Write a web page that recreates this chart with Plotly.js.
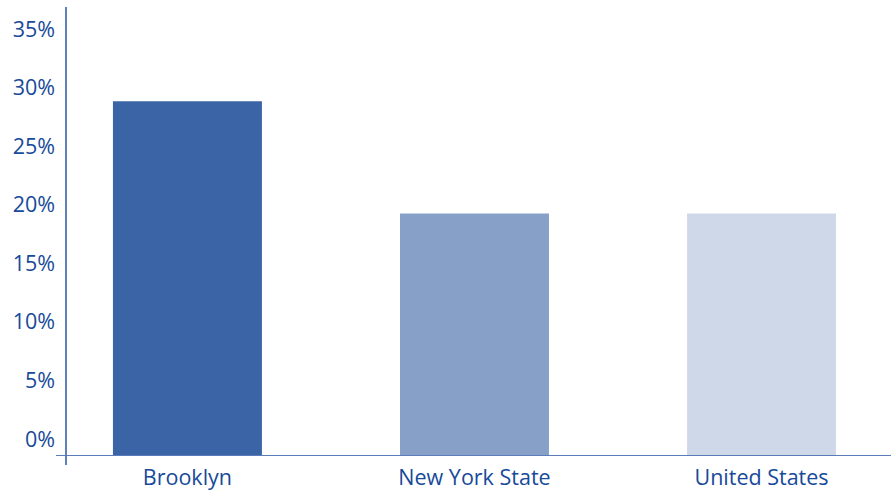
<!DOCTYPE html>
<html>
<head>
<meta charset="utf-8">
<script src="https://cdn.plot.ly/plotly-3.0.1.min.js"></script>
<style>html,body{margin:0;padding:0;background:#fff;}#chart{width:891px;height:490px;}</style>
</head>
<body>
<div id="chart"></div>
<script>
const categories = ["Brooklyn", "New York State", "United States"];
const values = [30.3, 20.7, 20.7];
const barColors = ["#3b64a7", "#87a0c8", "#cfd8e9"];
const tickValues = [0, 5, 10, 15, 20, 25, 30, 35];
const tickLabels = ["0%", "5%", "10%", "15%", "20%", "25%", "30%", "35%"];

const textColor = "#174a99";
const font = {family: "Open Sans, Noto Sans, sans-serif", size: 21.5, color: textColor};

Plotly.newPlot("chart", [{
  type: "bar",
  x: categories,
  y: values,
  marker: {color: barColors, line: {width: 0}},
  hoverinfo: "none"
}], {
  width: 891, height: 490,
  margin: {l: 66, r: 0, t: 7, b: 34, pad: 0},
  paper_bgcolor: "#ffffff",
  plot_bgcolor: "#ffffff",
  bargap: 0.481,
  showlegend: false,
  font: font,
  xaxis: {
    range: [-0.423, 2.451],
    showgrid: false, zeroline: false, showline: false,
    ticks: "", ticklabelstandoff: 6,
    tickfont: font
  },
  yaxis: {
    range: [0, 38.34],
    tickvals: tickValues, ticktext: tickLabels,
    showgrid: false, zeroline: false, showline: false,
    ticks: "", ticklabelstandoff: 10, ticklabelshift: -17,
    tickfont: font
  },
  shapes: [
    {type: "line", xref: "paper", yref: "paper", x0: 0, x1: 0, y0: -0.02, y1: 1, line: {color: "#2856a5", width: 1.5}},
    {type: "line", xref: "paper", yref: "y", x0: -0.0121, x1: 1, y0: 0, y1: 0, line: {color: "#5a7cba", width: 2}}
  ]
}, {displayModeBar: false, staticPlot: true});
</script>
</body>
</html>
